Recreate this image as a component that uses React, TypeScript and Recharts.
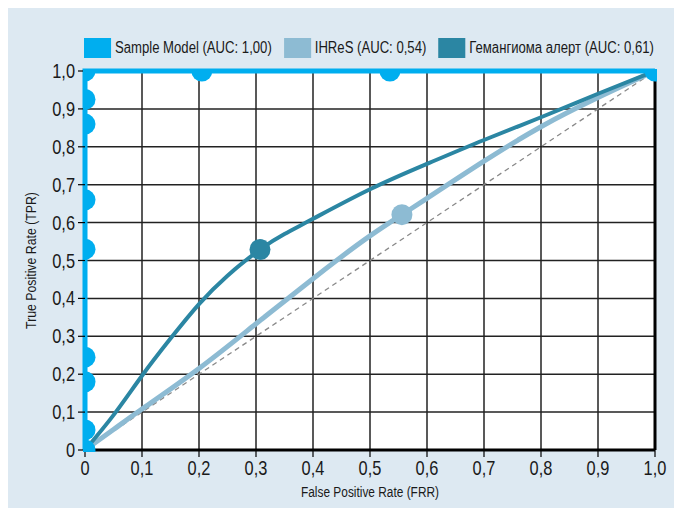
import React from 'react';
import { LineChart, Line, XAxis, YAxis, CartesianGrid, ReferenceLine } from 'recharts';

// ---- data ----
const axisTicks = [0, 0.1, 0.2, 0.3, 0.4, 0.5, 0.6, 0.7, 0.8, 0.9, 1.0];

const sampleFpr = [0, 0, 0, 0, 0, 0, 0, 0, 0, 0.205, 0.535, 1.0];
const sampleTpr = [0, 0.053, 0.18, 0.245, 0.53, 0.66, 0.86, 0.925, 1.0, 1.0, 1.0, 1.0];

const ihresFpr = [0, 0.05, 0.1, 0.2, 0.3, 0.4, 0.45, 0.5, 0.556, 0.6, 0.7, 0.8, 0.9, 1.0];
const ihresTpr = [0, 0.054, 0.108, 0.215, 0.333, 0.452, 0.51, 0.565, 0.621, 0.664, 0.762, 0.853, 0.93, 1.0];
const ihresMarkerIndex = 8;

const hemFpr = [0, 0.05, 0.1, 0.15, 0.2, 0.25, 0.307, 0.35, 0.4, 0.5, 0.6, 0.7, 0.8, 0.9, 1.0];
const hemTpr = [0, 0.092, 0.196, 0.294, 0.385, 0.46, 0.529, 0.57, 0.61, 0.688, 0.755, 0.818, 0.878, 0.94, 1.0];
const hemMarkerIndex = 6;

const diagFpr = [0, 1];
const diagTpr = [0, 1];

const seriesNames = ['Sample Model (AUC: 1,00)', 'IHReS (AUC: 0,54)', 'Гемангиома алерт (AUC: 0,61)'];
const seriesColors = ['#00aeef', '#8dbbd3', '#2b86a3'];

const xTitle = 'False Positive Rate (FRR)';
const yTitle = 'True Positive Rate (TPR)';

const zip = (xs: number[], ys: number[]) => xs.map((x, i) => ({ x, y: ys[i] }));
const sampleData = zip(sampleFpr, sampleTpr);
const ihresData = zip(ihresFpr, ihresTpr);
const hemData = zip(hemFpr, hemTpr);
const diagData = zip(diagFpr, diagTpr);

// ---- layout ----
const W = 666;
const H = 500;
const MARGIN = { top: 63, right: 19, left: 20, bottom: 18 };
const Y_AXIS_W = 57;
const X_AXIS_H = 40;
const PLOT = {
  left: MARGIN.left + Y_AXIS_W,
  top: MARGIN.top,
  width: W - MARGIN.left - Y_AXIS_W - MARGIN.right,
  height: H - MARGIN.top - MARGIN.bottom - X_AXIS_H,
};
const FONT = '"Liberation Sans", Arial, sans-serif';
const SQUEEZE = 0.82;
const TEXT = '#1a1a1a';
const fmt = (v: number) => (v === 0 ? '0' : v.toFixed(1).replace('.', ','));

const NarrowTick = (anchor: 'middle' | 'end', dy: string) => (props: any) => {
  const { x, y, payload } = props;
  return (
    <text
      transform={`translate(${x},${y}) scale(${SQUEEZE},1)`}
      textAnchor={anchor}
      dy={dy}
      fontSize={20}
      fontFamily={FONT}
      fill={TEXT}
    >
      {fmt(payload.value)}
    </text>
  );
};

const ClippedDot = (props: any) => {
  const { cx, cy, index } = props;
  if (cx == null || cy == null) return null;
  const id = `sample-dot-clip-${index}`;
  return (
    <g key={id}>
      <defs>
        <clipPath id={id}>
          <rect x={PLOT.left - 2} y={PLOT.top - 2} width={PLOT.width + 4} height={PLOT.height + 4} />
        </clipPath>
      </defs>
      <circle cx={cx} cy={cy} r={10.5} fill={seriesColors[0]} clipPath={`url(#${id})`} />
    </g>
  );
};

const markerDot = (markerIndex: number, color: string) => (props: any) => {
  const { cx, cy, index } = props;
  if (index !== markerIndex || cx == null) return <g key={`d-${index}`} />;
  return <circle key={`d-${index}`} cx={cx} cy={cy} r={10.5} fill={color} />;
};

export default function App() {
  return (
    <div style={{ position: 'fixed', top: 8, left: 8, width: W, height: H, background: '#dde9f2', fontFamily: FONT }}>
      <div
        style={{
          position: 'absolute',
          top: 30,
          left: 76,
          display: 'flex',
          alignItems: 'center',
          fontSize: 16,
          color: TEXT,
          whiteSpace: 'nowrap',
          transform: `scaleX(${SQUEEZE})`,
          transformOrigin: '0 0',
        }}
      >
        {seriesNames.map((name, i) => (
          <div key={name} style={{ display: 'flex', alignItems: 'center', marginRight: 12 / SQUEEZE }}>
            <span style={{ display: 'inline-block', width: 27 / SQUEEZE, height: 20, background: seriesColors[i], marginRight: 4 / SQUEEZE }} />
            <span>{name}</span>
          </div>
        ))}
      </div>
      <LineChart width={W} height={H} margin={MARGIN} style={{ position: 'absolute', top: 0, left: 0 }}>
        <CartesianGrid stroke="#222" strokeWidth={1.5} fill="#ffffff" horizontalValues={axisTicks} verticalValues={axisTicks} />
        <XAxis
          type="number"
          dataKey="x"
          domain={[0, 1]}
          ticks={axisTicks}
          height={X_AXIS_H}
          axisLine={{ stroke: '#000', strokeWidth: 3 }}
          tickLine={{ stroke: '#000', strokeWidth: 1.2 }}
          tickSize={7}
          tickMargin={3}
          tick={NarrowTick('middle', '0.76em')}
          allowDuplicatedCategory={false}
          label={{
            content: (p: any) => {
              const vb = p.viewBox;
              const cx = vb.x + vb.width / 2;
              const cy = vb.y + 42;
              return (
                <text transform={`translate(${cx},${cy}) scale(${SQUEEZE},1)`} textAnchor="middle" dominantBaseline="central" fontSize={14.5} fill={TEXT} fontFamily={FONT}>
                  {xTitle}
                </text>
              );
            },
          }}
        />
        <YAxis
          type="number"
          dataKey="y"
          domain={[0, 1]}
          ticks={axisTicks}
          width={Y_AXIS_W}
          axisLine={false}
          tickLine={{ stroke: '#000', strokeWidth: 1.2 }}
          tickSize={7}
          tickMargin={3}
          tick={NarrowTick('end', '0.35em')}
          label={{
            content: (p: any) => {
              const vb = p.viewBox;
              const cx = vb.x + 3;
              const cy = vb.y + vb.height / 2;
              return (
                <text transform={`translate(${cx},${cy}) rotate(-90) scale(${SQUEEZE},1)`} textAnchor="middle" dominantBaseline="central" fontSize={15} fill={TEXT} fontFamily={FONT}>
                  {yTitle}
                </text>
              );
            },
          }}
        />
        <ReferenceLine x={1} stroke="#000" strokeWidth={3} ifOverflow="visible" />
        <Line data={diagData} dataKey="y" type="linear" stroke="#888" strokeWidth={1.3} strokeDasharray="5 4" dot={false} isAnimationActive={false} />
        <Line data={ihresData} dataKey="y" type="natural" stroke={seriesColors[1]} strokeWidth={5} dot={markerDot(ihresMarkerIndex, seriesColors[1])} activeDot={false} isAnimationActive={false} />
        <Line data={hemData} dataKey="y" type="natural" stroke={seriesColors[2]} strokeWidth={4} dot={markerDot(hemMarkerIndex, seriesColors[2])} activeDot={false} isAnimationActive={false} />
        <Line data={sampleData} dataKey="y" type="linear" stroke={seriesColors[0]} strokeWidth={5} dot={ClippedDot} activeDot={false} isAnimationActive={false} />
      </LineChart>
    </div>
  );
}
